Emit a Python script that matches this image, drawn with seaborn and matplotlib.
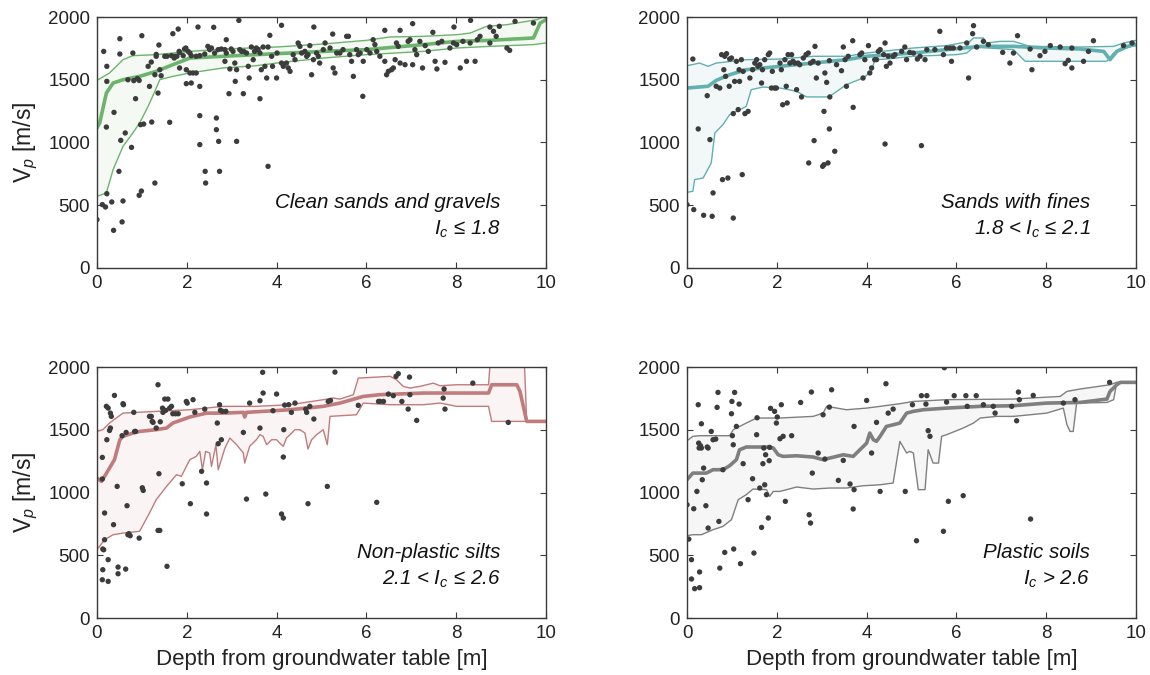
import numpy as np
import pandas as pd
import matplotlib
matplotlib.use("Agg")
import matplotlib.pyplot as plt
import seaborn as sns

# ---------------- data ----------------
# Panel 1: Clean sands and gravels
p1_depth = [0.00,0.12,0.19,0.15,0.22,0.22,0.21,0.22,0.33,0.37,0.38,0.49,0.51,0.51,0.53,0.56,0.58,0.63,0.69,0.77,
            0.80,0.86,0.82,0.90,0.94,0.94,0.99,1.00,0.97,1.04,1.14,1.17,1.21,1.22,1.29,1.29,1.32,1.36,1.38,1.40,
            1.43,1.62,1.69,1.81,1.72,1.83,1.84,2.25,2.29,2.29,2.41,2.42,2.60,2.66,2.66,2.71,2.73,2.88,2.94,3.11,
            3.16,3.26,3.63,3.81,3.85,4.11,4.83,5.25,5.56,5.92,6.41,6.75,7.03,7.48,7.95,8.32,8.75,9.31,9.19,
            1.32,1.51,1.56,1.66,1.73,1.78,1.84,1.92,1.95,1.98,2.03,2.07,2.10,1.99,2.07,2.14,2.21,1.99,2.10,2.29,
            2.21,2.29,2.40,2.47,2.51,2.55,2.62,2.70,2.77,2.85,2.88,2.85,2.96,2.99,3.03,3.07,3.08,3.11,3.18,3.22,
            3.27,3.33,3.37,3.39,3.44,3.48,3.51,3.55,3.59,3.63,3.66,3.70,3.74,3.78,3.81,3.89,3.91,4.00,4.01,4.11,
            4.15,4.22,4.26,4.30,4.37,4.41,4.48,4.52,4.56,4.63,4.67,4.70,4.74,4.78,4.82,4.89,4.93,4.96,5.04,5.08,
            5.19,5.26,5.30,5.34,5.41,5.48,5.60,5.63,5.67,5.71,5.78,5.82,5.86,5.93,6.01,6.08,6.15,6.19,6.23,6.30,
            6.41,6.45,6.49,6.56,6.60,6.64,6.67,6.71,6.75,6.86,6.93,6.97,7.03,7.08,7.12,7.19,7.25,7.31,7.38,7.53,
            7.57,7.60,7.68,7.75,7.86,7.94,8.01,8.09,8.15,8.23,8.31,8.42,8.47,8.53,8.75,8.83,8.89,8.96,9.13,9.72]
p1_vp = [385,505,486,1726,1487,1607,1123,592,526,300,1240,770,1827,1705,1017,367,534,1076,1500,961,
         1713,1349,1493,1509,1495,579,613,1851,1142,1147,1607,1447,1641,1163,677,1540,1702,1394,1777,1580,
         1532,1161,1867,1904,1673,1726,1594,1920,1214,983,770,677,1918,1195,1102,1009,770,1819,1389,1009,
         1973,1389,1349,810,1854,1934,1920,1864,1846,1368,1894,1894,1947,1878,1920,1973,1920,1965,1734,
         1687,1687,1687,1692,1687,1687,1718,1692,1745,1753,1726,1713,1692,1580,1554,1554,1554,1469,1474,1447,
         1687,1692,1705,1766,1740,1753,1713,1740,1745,1740,1713,1647,1586,1745,1726,1633,1487,1580,1740,1726,
         1726,1713,1607,1514,1761,1660,1726,1753,1740,1713,1580,1761,1607,1514,1761,1687,1607,1514,1713,1633,
         1607,1633,1594,1567,1700,1660,1793,1766,1713,1726,1687,1700,1772,1540,1660,1713,1687,1633,1740,1793,
         1753,1594,1554,1713,1713,1740,1846,1700,1647,1527,1740,1700,1713,1647,1740,1713,1819,1780,1726,1687,
         1647,1540,1567,1580,1594,1660,1793,1766,1633,1620,1806,1819,1620,1740,1700,1806,1594,1772,1726,1647,
         1586,1793,1806,1639,1753,1793,1780,1594,1806,1647,1793,1647,1819,1846,1793,1886,1846,1926,1753,1952]
p1_up_d = [0,0.28,0.58,0.80,1.32,2.07,2.81,4.0,5.04,6.0,6.53,7.27,8.01,8.31,8.68,9.13,9.80,10.0]
p1_up_v = [1495,1554,1660,1692,1700,1726,1745,1761,1785,1814,1841,1846,1859,1872,1926,1939,1979,2010]
p1_md_d = [0,0.06,0.21,0.36,0.58,0.95,1.32,1.69,2.07,2.81,3.55,4.0,5.04,6.0,7.27,8.01,8.75,9.72,9.87,10.0]
p1_md_v = [1116,1155,1394,1474,1500,1527,1567,1620,1673,1687,1700,1708,1726,1740,1780,1806,1814,1833,1952,1979]
p1_lo_d = [0,0.21,0.36,0.58,0.80,0.95,1.14,1.29,1.40,1.69,2.07,2.81,3.55,4.0,5.04,6.0,7.27,8.01,8.75,9.72,10.0]
p1_lo_v = [571,598,784,969,1076,1155,1288,1408,1501,1527,1554,1594,1612,1633,1673,1700,1726,1753,1766,1780,1793]

# Panel 2: Sands with fines
p2_depth = [0.00,0.13,0.15,0.25,0.37,0.45,0.51,0.56,0.58,0.65,0.73,0.77,0.79,0.82,0.84,0.86,0.88,0.91,0.94,0.95,
            0.99,1.03,1.03,1.06,1.10,1.14,1.16,1.17,1.21,1.23,1.25,1.29,1.36,1.40,1.46,1.51,1.55,1.58,1.62,1.66,
            1.68,1.73,1.81,1.84,1.88,1.90,1.95,1.99,2.07,2.10,2.13,2.18,2.21,2.23,2.25,2.29,2.33,2.36,2.40,2.44,
            2.47,2.51,2.55,2.59,2.65,2.70,2.71,2.75,2.81,2.83,2.85,2.88,2.92,3.02,3.05,3.05,3.07,3.11,3.14,3.17,
            3.18,3.17,3.29,3.33,3.44,3.48,3.52,3.55,3.59,3.69,3.70,3.85,3.89,3.92,3.96,4.04,4.07,4.11,4.18,4.22,
            4.26,4.30,4.38,4.41,4.41,4.44,4.48,4.52,4.59,4.63,4.78,4.85,4.89,4.96,5.04,5.13,5.19,5.22,5.30,5.34,
            5.52,5.63,5.71,5.78,5.86,5.89,5.93,6.08,6.23,6.27,6.36,6.38,6.45,6.60,6.71,7.03,7.19,7.27,7.36,7.64,
            7.68,7.86,7.97,8.09,8.31,8.42,8.49,8.57,8.57,8.83,8.94,9.05,9.72,9.91]
p2_vp = [505,1665,465,1108,420,1373,1023,412,598,1448,1434,1700,704,1580,1687,1527,1708,717,1448,1665,
         1673,398,1230,1487,1647,1262,1580,1487,1660,744,1567,1230,1248,1514,1580,1633,1660,1607,1620,1474,
         1580,1660,1700,1713,1434,1567,1434,1434,1633,1580,1301,1660,1448,1315,1700,1633,1700,1647,1633,1421,
         1633,1620,1363,1673,1700,1713,837,1633,1647,1015,1766,1514,1633,810,1248,823,1554,1479,837,1108,
         1363,1652,930,1620,1572,1761,1660,1448,1687,1811,1280,1700,1713,1514,1660,1772,1554,1594,1660,1660,
         1726,1740,1700,1793,988,1607,1687,1633,1687,1700,1726,1761,1660,1718,1713,1665,1687,975,1660,1740,
         1740,1886,1700,1753,1753,1647,1753,1753,1793,1514,1867,1931,1761,1806,1780,1718,1633,1713,1851,1745,
         1580,1692,1726,1772,1761,1628,1655,1594,1753,1647,1726,1811,1772,1793]
p2_up_d = [0,0.28,0.47,0.65,1.32,2.07,2.81,3.55,4.0,5.04,5.78,6.30,6.38,6.60,6.67,6.97,7.27,7.64,8.75,9.50,9.72,10.0]
p2_up_v = [1612,1633,1607,1633,1660,1665,1687,1687,1713,1753,1772,1806,1833,1833,1793,1806,1806,1766,1761,1766,1793,1814]
p2_md_d = [0,0.47,0.65,0.95,1.32,2.07,2.81,3.55,4.0,5.04,5.78,6.53,7.27,8.01,8.75,9.28,9.42,9.57,9.80,10.0]
p2_md_v = [1434,1448,1495,1540,1580,1607,1633,1660,1687,1713,1740,1766,1766,1753,1745,1726,1660,1726,1766,1780]
p2_lo_d = [0,0.13,0.17,0.36,0.54,0.62,0.80,0.95,1.10,1.32,1.43,1.69,2.07,2.44,2.66,3.11,3.18,3.55,3.92,4.11,
           4.18,4.44,5.04,6.0,6.23,6.38,7.27,7.53,9.35,9.50,10.0]
p2_lo_v = [603,611,704,717,837,1076,1142,1222,1248,1288,1421,1442,1434,1408,1363,1363,1368,1461,1514,1567,
           1660,1665,1687,1700,1713,1761,1740,1647,1647,1713,1780]

# Panel 3: Non-plastic silts
p3_depth = [0.12,0.13,0.15,0.12,0.13,0.17,0.17,0.12,0.22,0.25,0.25,0.28,0.30,0.30,0.21,0.25,0.32,0.37,0.39,0.45,
            0.47,0.47,0.56,0.58,0.59,0.64,0.65,0.67,0.69,0.71,0.74,0.82,0.84,0.86,0.94,1.01,1.03,1.17,1.21,1.23,
            1.25,1.32,1.36,1.36,1.38,1.40,1.41,1.46,1.47,1.51,1.53,1.56,1.58,1.62,1.66,1.69,1.75,1.81,1.90,1.99,
            2.01,2.08,2.14,2.18,2.33,2.40,2.44,2.44,2.68,2.70,2.73,2.77,2.75,2.79,2.87,3.26,3.33,3.40,3.63,3.63,
            3.69,3.70,3.76,3.92,4.00,4.11,4.15,4.15,4.16,4.18,4.27,4.33,4.41,4.65,4.67,4.70,4.74,4.83,5.13,5.15,
            5.20,5.30,5.82,6.23,6.27,6.30,6.38,6.49,6.60,6.66,6.71,6.79,6.93,6.96,6.97,7.12,7.71,7.73,7.75,8.37,9.16]
p3_vp = [305,550,544,1108,385,624,837,1280,1421,465,292,1495,1514,1633,1687,1673,1607,744,1774,1049,
         406,353,1453,1708,1700,390,1479,895,664,672,656,1639,1487,1487,637,1038,1017,1607,1607,1567,
         1559,1514,1859,698,1150,698,1564,1673,1639,1745,1655,412,1745,1673,1687,1628,1628,1628,1070,1726,
         1713,911,1740,1639,1169,1665,1076,829,1554,1389,1700,1421,1655,1647,1647,1479,948,1713,1732,1514,
         1958,1793,988,1652,1785,829,797,1283,1501,1697,1700,1639,1713,1665,1639,911,1687,1586,1049,1726,
         1734,1960,1695,922,1726,1726,1726,1785,1772,1926,1947,1726,1665,1920,1780,1575,1753,1825,1665,1872,1559]
p3_up_d = [0,0.13,0.28,0.43,0.58,1.32,2.07,2.81,3.55,4.30,5.04,5.26,5.41,5.71,5.82,6.53,6.67,6.82,6.97,7.19,
           7.49,7.64,8.01,8.72,8.79,9.50,9.57,10.0]
p3_up_v = [1487,1501,1554,1594,1633,1647,1660,1687,1687,1700,1740,1753,1745,1780,1912,1926,1899,1846,1833,1846,
           1872,1851,1859,1859,2200,2200,1567,1567]
p3_md_d = [0,0.10,0.17,0.28,0.39,0.51,0.58,0.80,0.95,1.32,1.55,1.69,2.07,2.44,2.81,3.26,3.29,3.33,4.30,5.04,
           5.41,5.93,6.30,6.90,7.27,8.72,8.79,9.35,9.42,9.57,10.0]
p3_md_v = [1116,1089,1129,1195,1262,1421,1448,1474,1487,1501,1514,1554,1602,1633,1633,1639,1602,1639,1660,1687,
           1713,1766,1780,1788,1793,1793,1859,1859,1806,1567,1567]
p3_lo_d = [0,0.17,0.36,0.58,0.95,1.17,1.32,1.55,1.77,1.88,1.99,2.07,2.21,2.29,2.35,2.42,2.51,2.55,2.65,2.70,
           2.77,2.85,2.96,3.11,3.26,3.29,3.40,3.55,3.63,3.70,3.78,3.89,4.00,4.07,4.15,4.22,4.30,4.41,4.52,4.63,
           4.70,4.78,4.89,5.04,5.13,5.19,5.78,5.93,6.53,7.27,7.64,8.01,8.72,8.79,10.0]
p3_lo_v = [544,624,664,677,691,837,943,1049,1142,1129,1208,1262,1288,1328,1182,1328,1315,1208,1381,1182,
           1262,1355,1434,1381,1315,1235,1368,1421,1461,1448,1381,1421,1421,1394,1368,1434,1461,1501,1501,1474,
           1347,1421,1461,1501,1381,1607,1620,1713,1700,1700,1713,1687,1687,1567,1567]

# Panel 4: Plastic soils
p4_depth = [0.00,0.04,0.10,0.10,0.17,0.15,0.22,0.25,0.26,0.27,0.28,0.28,0.30,0.32,0.32,0.34,0.37,0.42,0.45,0.47,
            0.47,0.54,0.58,0.64,0.67,0.69,0.71,0.73,0.80,0.84,0.99,1.00,1.01,1.03,1.04,1.06,1.10,1.16,1.19,1.25,
            1.36,1.46,1.49,1.55,1.56,1.62,1.66,1.69,1.71,1.73,1.75,1.77,1.81,1.83,1.84,1.86,1.95,1.99,2.01,2.07,
            2.10,2.14,2.19,2.33,2.53,2.72,2.75,2.77,2.79,2.92,3.03,3.07,3.17,3.22,3.37,3.48,3.63,3.70,3.72,3.72,
            4.00,4.11,4.22,4.30,4.43,4.48,4.59,4.86,5.02,5.11,5.22,5.34,5.32,5.37,5.41,5.71,5.73,5.78,5.82,5.95,
            6.15,6.21,6.24,6.44,6.60,6.86,6.82,7.23,7.34,7.38,7.40,7.65,7.71,8.38,8.64,9.41]
p4_vp = [903,629,465,311,234,871,1009,1700,1394,1355,367,242,1373,1548,1355,1102,1195,895,1363,717,
         1355,1487,1421,1426,1679,1798,770,398,1182,523,1628,1726,1453,1381,550,1798,1527,1705,433,1230,
         943,1110,518,1461,1596,1036,722,1230,1355,1062,1301,983,797,1254,1360,1671,1647,1554,1602,1429,
         1700,1448,930,1453,1718,823,757,1801,1155,1315,1620,1267,1681,1819,1097,1256,1068,869,1023,1527,
         1734,1315,1559,1009,1867,1633,1665,1009,1700,616,1772,1772,1705,1493,1448,691,1995,1721,930,1772,
         975,1772,1687,1772,1700,1633,1687,1687,1572,1801,1740,789,1774,1713,1740,1878]
p4_up_d = [0,0.13,0.28,0.95,1.03,1.32,1.55,2.07,2.81,3.03,3.11,3.55,4.0,4.30,4.74,5.04,5.78,7.27,7.64,8.31,
           8.46,8.75,9.42,9.57,10.0]
p4_up_v = [1413,1448,1453,1453,1501,1554,1594,1594,1607,1633,1687,1660,1673,1687,1708,1726,1740,1745,1753,1766,
           1806,1825,1859,1878,1878]
p4_md_d = [0,0.13,0.43,0.58,0.80,0.95,1.10,1.17,1.32,1.77,1.92,2.03,2.14,2.44,2.81,3.03,3.18,3.33,3.48,3.70,
           3.85,4.0,4.07,4.15,4.22,4.30,4.44,4.59,4.74,4.89,5.04,5.26,5.78,6.53,7.27,8.01,8.75,9.35,9.42,9.57,
           9.65,10.0]
p4_md_v = [1102,1155,1155,1182,1182,1214,1262,1341,1363,1363,1355,1301,1288,1293,1283,1262,1275,1288,1301,1288,
           1341,1394,1474,1421,1408,1448,1527,1540,1554,1633,1647,1660,1673,1687,1692,1713,1718,1745,1806,1859,
           1878,1878]
p4_lo_d = [0,0.13,0.32,0.58,0.80,0.99,1.14,1.32,1.47,1.77,1.84,1.92,2.07,2.44,2.81,3.18,3.55,3.92,4.30,4.59,
           4.74,4.89,4.96,5.04,5.15,5.30,5.37,5.48,5.60,5.67,5.78,6.15,6.38,6.53,6.90,7.27,7.64,8.01,8.38,8.46,
           8.53,8.60,8.68,8.75,9.35,9.50,9.57,10.0]
p4_lo_v = [656,664,664,704,730,784,943,983,1028,1023,969,1009,1009,1044,1028,1036,1036,1054,1062,1076,
           1408,1315,1328,1315,1023,1023,1341,1235,1235,1448,1461,1514,1554,1594,1607,1607,1620,1633,1673,1541,
           1487,1487,1726,1713,1718,1740,1878,1878]

titles = ["Clean sands and gravels", "Sands with fines", "Non-plastic silts", "Plastic soils"]
ranges = [r"$\mathit{I_c}$ ≤ 1.8", r"1.8 < $\mathit{I_c}$ ≤ 2.1", r"2.1 < $\mathit{I_c}$ ≤ 2.6", r"$\mathit{I_c}$ > 2.6"]
line_colors = ["#6cb46c", "#62b0b0", "#c07c7c", "#7f7f7f"]
fill_colors = ["#f4f9f4", "#f2f8f8", "#fbf4f5", "#f6f6f6"]
x_ticks = [0, 2, 4, 6, 8, 10]
y_ticks = [0, 500, 1000, 1500, 2000]

# ---------------- style ----------------
sns.set_style("ticks")
plt.rcParams["font.family"] = ["Liberation Sans", "DejaVu Sans"]
plt.rcParams["mathtext.fontset"] = "custom"
plt.rcParams["mathtext.it"] = "Liberation Sans:italic"
plt.rcParams["mathtext.rm"] = "Liberation Sans"
plt.rcParams["axes.edgecolor"] = "#3a3a3a"
plt.rcParams["xtick.color"] = "#3a3a3a"
plt.rcParams["ytick.color"] = "#3a3a3a"

fig = plt.figure(figsize=(11.5, 6.75), dpi=100)
W, H = 0.3905, 0.3718
positions = [(0.0843, 0.6030), (0.5974, 0.6030), (0.0843, 0.0844), (0.5974, 0.0844)]

panels = [
    (p1_depth, p1_vp, p1_up_d, p1_up_v, p1_md_d, p1_md_v, p1_lo_d, p1_lo_v),
    (p2_depth, p2_vp, p2_up_d, p2_up_v, p2_md_d, p2_md_v, p2_lo_d, p2_lo_v),
    (p3_depth, p3_vp, p3_up_d, p3_up_v, p3_md_d, p3_md_v, p3_lo_d, p3_lo_v),
    (p4_depth, p4_vp, p4_up_d, p4_up_v, p4_md_d, p4_md_v, p4_lo_d, p4_lo_v),
]

for i, (pd_, pv, ud, uv, md, mv, ld, lv) in enumerate(panels):
    ax = fig.add_axes([positions[i][0], positions[i][1], W, H])
    c = line_colors[i]
    # shaded band between lower and upper bounds
    ax.fill(np.concatenate([ud, ld[::-1]]), np.concatenate([uv, lv[::-1]]),
            color=fill_colors[i], lw=0, zorder=1)
    pts = pd.DataFrame({"depth": pd_, "vp": pv})
    sns.scatterplot(data=pts, x="depth", y="vp", ax=ax, s=15, color="#3c3c3c",
                    edgecolor="none", zorder=3)
    for (xd, yv, lw) in [(ud, uv, 1.0), (ld, lv, 1.0), (md, mv, 2.6)]:
        df = pd.DataFrame({"depth": xd, "vp": yv})
        sns.lineplot(data=df, x="depth", y="vp", ax=ax, color=c, lw=lw,
                     estimator=None, sort=False, zorder=2)
    ax.set_xlim(0, 10)
    ax.set_ylim(0, 2000)
    ax.set_xticks(x_ticks)
    ax.set_yticks(y_ticks)
    ax.tick_params(direction="in", top=True, right=True, length=4, width=0.8,
                   labelsize=13.5, labelcolor="#222222", pad=5)
    for s in ax.spines.values():
        s.set_linewidth(1.0)
    ax.set_xlabel("")
    ax.set_ylabel("")
    if i in (0, 2):
        ax.set_ylabel(r"$\mathrm{V}_{p}$ [m/s]", fontsize=16.5, color="#222222", labelpad=6)
    if i in (2, 3):
        ax.set_xlabel("Depth from groundwater table [m]", fontsize=16, color="#222222", labelpad=5)
    ax.text(8.98, 525, titles[i], ha="right", va="center", style="italic", fontsize=14.8, color="#111111")
    ax.text(8.98, 310, ranges[i], ha="right", va="center", style="italic", fontsize=14.8, color="#111111")

fig.savefig("out.png", dpi=100)
